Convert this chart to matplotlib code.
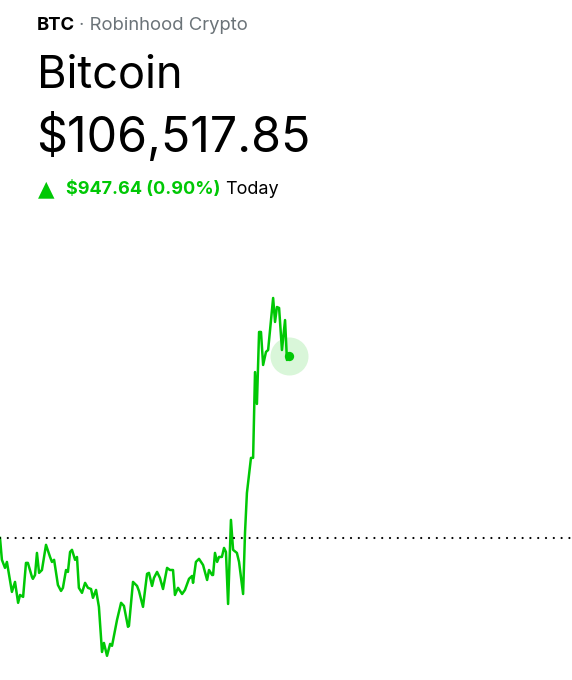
import matplotlib
matplotlib.use("Agg")
import matplotlib.pyplot as plt

# one-day BTC price path (hours since start of day, USD)
hours = [0.00, 0.08, 0.21, 0.29, 0.50, 0.63, 0.76, 0.84, 0.97, 1.09, 1.17, 1.34, 1.38, 1.47,
         1.55, 1.64, 1.76, 1.93, 2.10, 2.18, 2.27, 2.43, 2.56, 2.64, 2.77, 2.85, 2.94, 3.02,
         3.15, 3.23, 3.31, 3.44, 3.57, 3.69, 3.82, 3.90, 4.03, 4.15, 4.28, 4.36, 4.49, 4.62,
         4.70, 4.91, 5.08, 5.20, 5.37, 5.41, 5.58, 5.75, 5.83, 6.00, 6.17, 6.25, 6.38, 6.46,
         6.59, 6.71, 6.84, 7.01, 7.13, 7.26, 7.34, 7.47, 7.64, 7.76, 7.93, 8.06, 8.10, 8.22,
         8.35, 8.52, 8.69, 8.77, 8.90, 8.94, 9.02, 9.11, 9.19, 9.31, 9.40, 9.48, 9.57, 9.69,
         9.78, 9.94, 10.03, 10.20, 10.28, 10.36, 10.53, 10.62, 10.70, 10.78, 10.87, 10.95,
         11.04, 11.16, 11.25, 11.46, 11.54, 11.62, 11.71, 11.83, 11.96, 12.04, 12.13]
prices = [105570, 105456, 105414, 105445, 105289, 105341, 105232, 105273, 105263, 105440,
          105440, 105367, 105357, 105377, 105492, 105388, 105403, 105534, 105471, 105445,
          105456, 105325, 105294, 105310, 105403, 105393, 105497, 105508, 105456, 105471,
          105310, 105284, 105336, 105310, 105304, 105258, 105299, 105211, 104976, 105023,
          104956, 105018, 105008, 105143, 105232, 105216, 105107, 105112, 105341, 105320,
          105294, 105211, 105383, 105388, 105320, 105362, 105393, 105362, 105304, 105414,
          105403, 105403, 105273, 105310, 105278, 105299, 105357, 105372, 105336, 105445,
          105461, 105429, 105351, 105403, 105377, 105377, 105492, 105445, 105471, 105471,
          105518, 105497, 105226, 105664, 105508, 105492, 105445, 105278, 105596, 105804,
          105987, 105987, 106434, 106268, 106643, 106643, 106471, 106539, 106549, 106820,
          106695, 106773, 106768, 106549, 106705, 106497, 106517.85]

symbol = "BTC"
source = "Robinhood Crypto"
name = "Bitcoin"
price_now = 106517.85
prev_close = 105570.21
change = 947.64
change_pct = 0.90

GREEN = "#00c805"
plt.rcParams["font.family"] = ["Inter", "DejaVu Sans"]

fig = plt.figure(figsize=(5.72, 6.8), dpi=100)
W, H = 572, 680

def fy(py):
    return 1 - py / H

# header
b = fig.text(37 / W, fy(30), symbol, fontsize=13.3, fontweight="bold", color="black")
fig.canvas.draw()
bx = b.get_window_extent().x1
fig.text((bx + 4) / W, fy(30), "· " + source, fontsize=13.3, color="#6b7378")
fig.text(37 / W, fy(87), name, fontsize=32.5, color="black")
fig.text(36 / W, fy(152), "${:,.2f}".format(price_now), fontsize=34.8, color="black")
fig.text(38 / W, fy(195), "▲", fontsize=15.5, color=GREEN, family="DejaVu Sans")
g = fig.text(66 / W, fy(194), "${:,.2f} ({:.2f}%)".format(change, change_pct),
             fontsize=13, fontweight="bold", color=GREEN)
fig.canvas.draw()
bb = g.get_window_extent()
fig.text((bb.x1 + 5) / W, fy(194), "Today", fontsize=13, color="black")

# chart
ax = fig.add_axes([0, 0, 1, 440 / H])
ax.plot(hours, prices, color=GREEN, lw=1.8, solid_joinstyle="round")
ax.axhline(prev_close, color="black", lw=1.6, ls=(0, (0.01, 3.5)), dash_capstyle="round")
ax.scatter([hours[-1]], [prices[-1]], s=750, color=GREEN, alpha=0.15, lw=0, zorder=3)
ax.scatter([hours[-1]], [prices[-1]], s=45, color=GREEN, lw=0, zorder=4)
ax.set_xlim(0, 24)
ax.set_ylim(104830, 107122)
ax.axis("off")

fig.savefig("out.png", dpi=100)
